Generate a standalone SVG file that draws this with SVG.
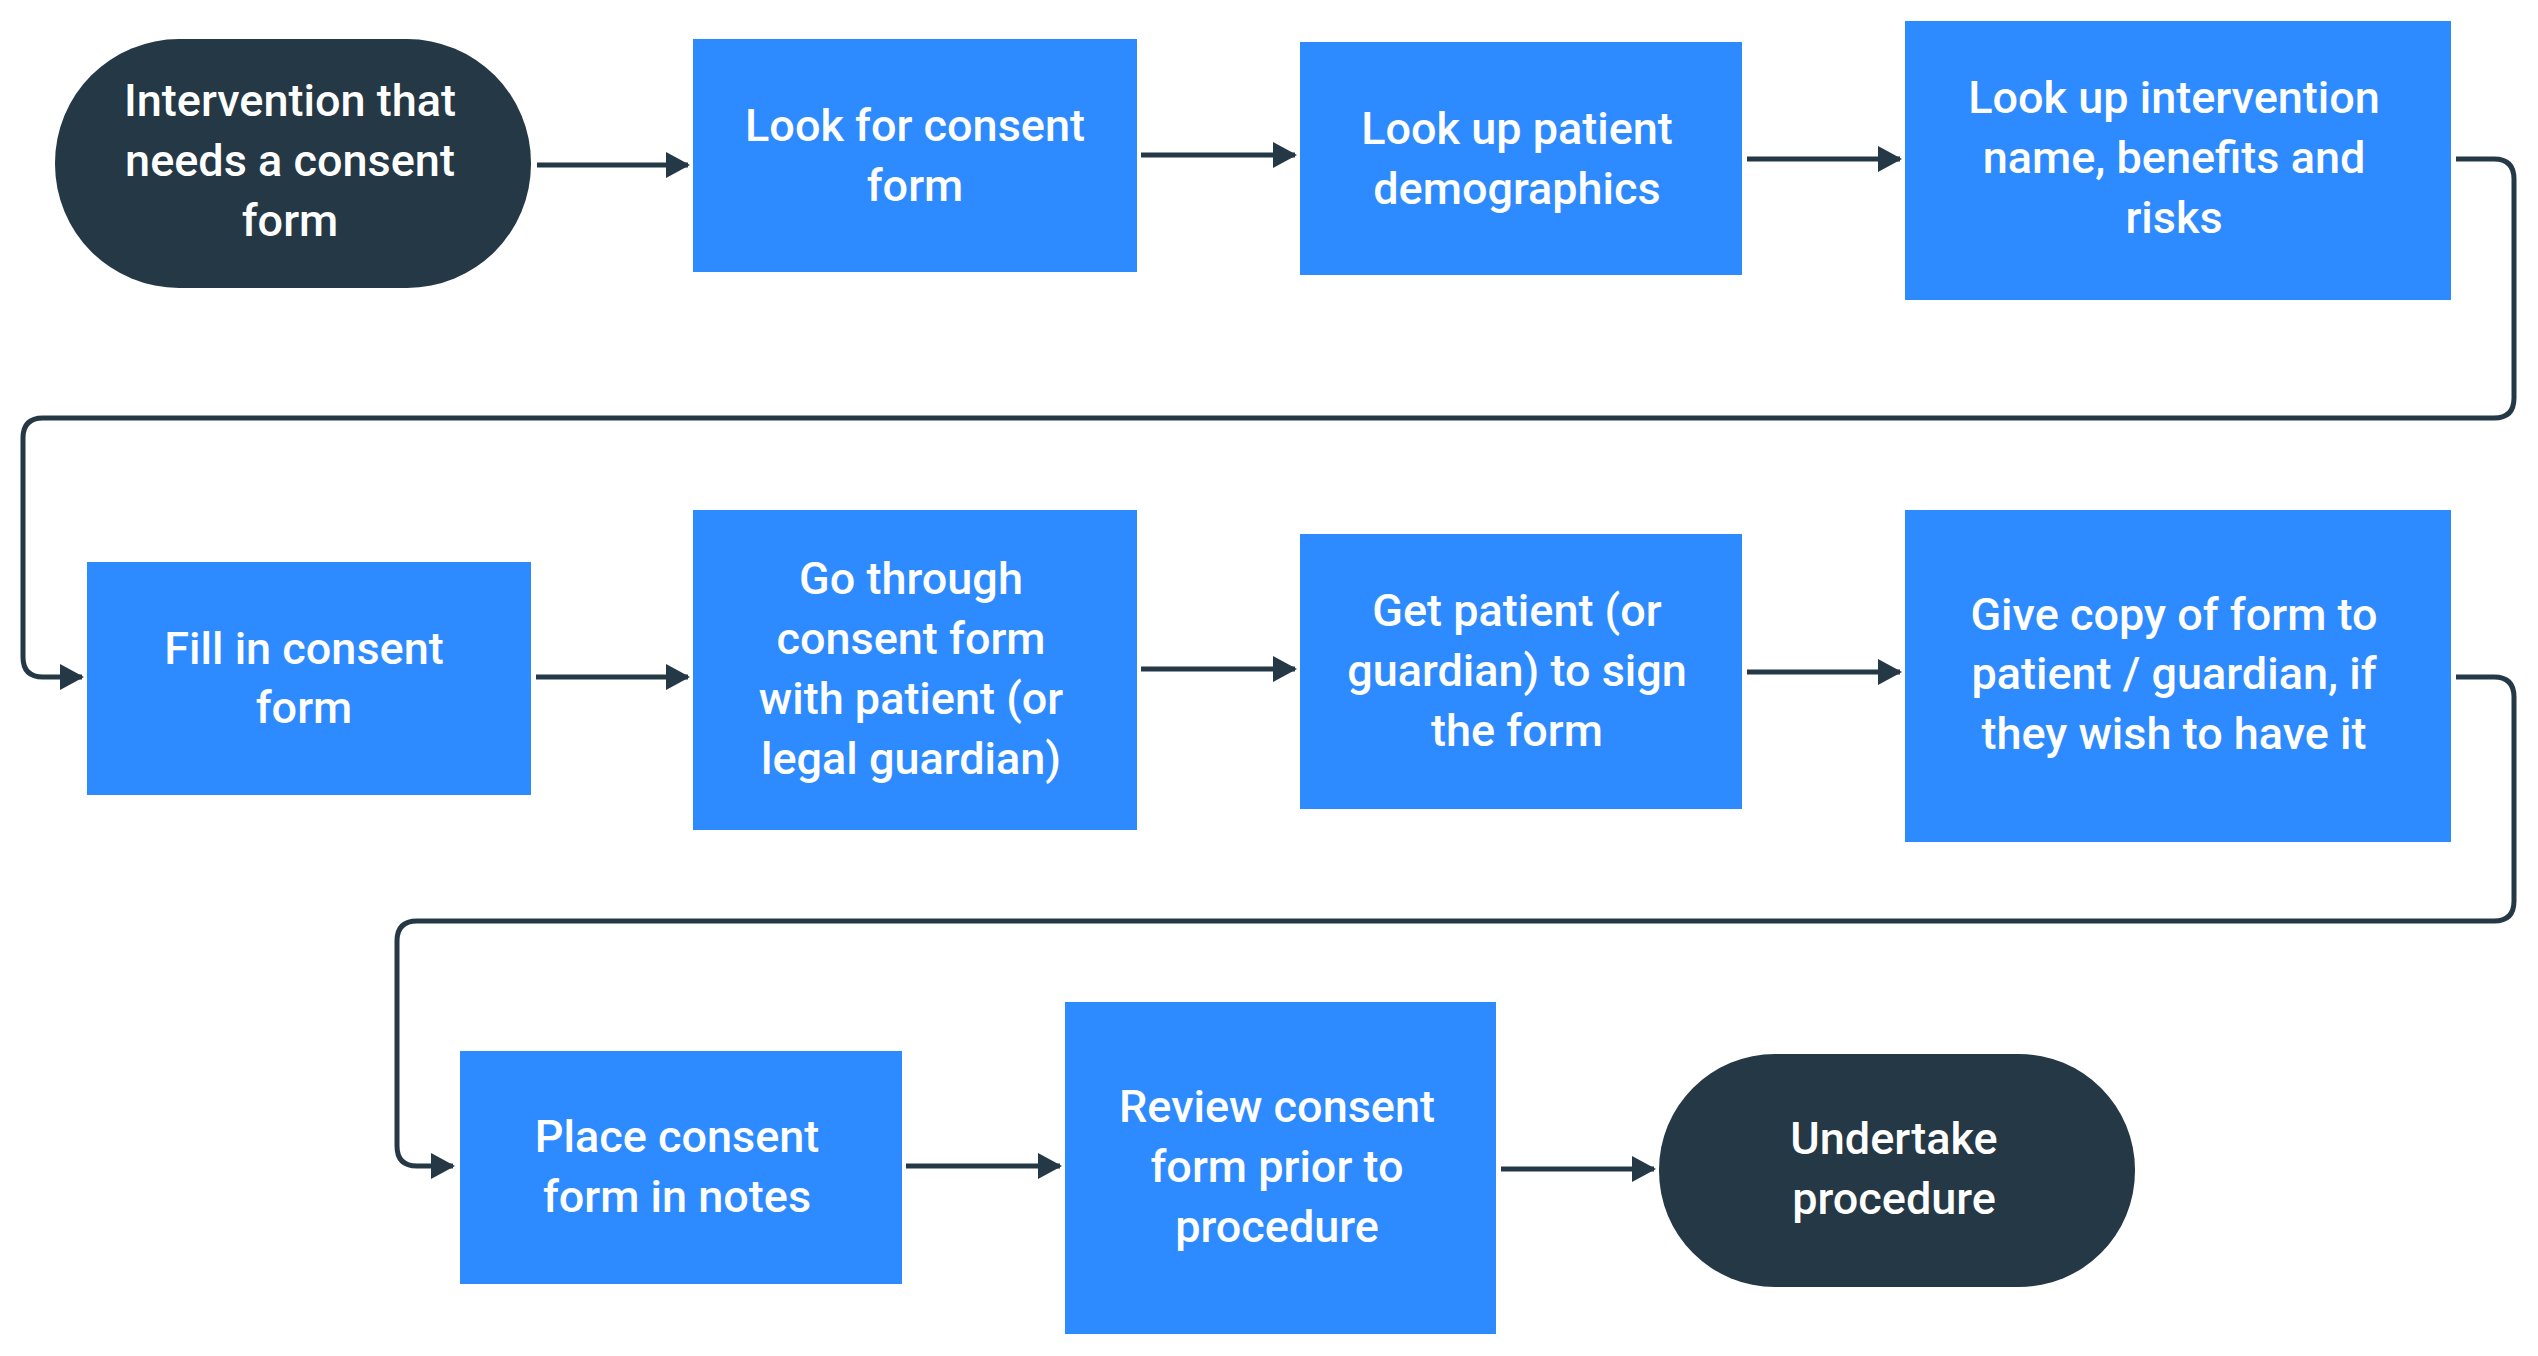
<svg xmlns="http://www.w3.org/2000/svg" width="2538" height="1356" viewBox="0 0 2538 1356">
<style>
.b{fill:#2e8bff}
.d{fill:#253846}
text{font-family:Roboto,"Liberation Sans",sans-serif;font-weight:500;font-size:45px;fill:#fff;text-anchor:middle}
.c path{fill:none;stroke:#253846;stroke-width:5;marker-end:url(#a)}
</style>
<defs><marker id="a" markerUnits="userSpaceOnUse" markerWidth="24" markerHeight="26" refX="22" refY="13" orient="auto"><path d="M0,0L24,13L0,26z" fill="#253846"/></marker></defs>
<rect width="2538" height="1356" fill="#fff"/>
<g class="c">
<path d="M537,165H688"/>
<path d="M1141,155H1295"/>
<path d="M1747,159H1900"/>
<path d="M2456,159H2494Q2514,159 2514,179V398Q2514,418 2494,418H43Q23,418 23,438V657Q23,677 43,677H82"/>
<path d="M536,677H688"/>
<path d="M1141,669H1295"/>
<path d="M1747,672H1900"/>
<path d="M2456,677H2494Q2514,677 2514,697V901Q2514,921 2494,921H417Q397,921 397,941V1146Q397,1166 417,1166H453"/>
<path d="M906,1166H1060"/>
<path d="M1501,1169H1654"/>
</g>
<g id="n1"><rect class="d" x="55" y="39" width="476" height="249" rx="124"/><text x="290" y="116">Intervention that</text><text x="290" y="176">needs a consent</text><text x="290" y="236">form</text></g>
<g id="n2"><rect class="b" x="693" y="39" width="444" height="233"/><text x="915" y="141">Look for consent</text><text x="915" y="201">form</text></g>
<g id="n3"><rect class="b" x="1300" y="42" width="442" height="233"/><text x="1517" y="144">Look up patient</text><text x="1517" y="204">demographics</text></g>
<g id="n4"><rect class="b" x="1905" y="21" width="546" height="279"/><text x="2174" y="113">Look up intervention</text><text x="2174" y="173">name, benefits and</text><text x="2174" y="233">risks</text></g>
<g id="n5"><rect class="b" x="87" y="562" width="444" height="233"/><text x="304" y="664">Fill in consent</text><text x="304" y="723">form</text></g>
<g id="n6"><rect class="b" x="693" y="510" width="444" height="320"/><text x="911" y="594">Go through</text><text x="911" y="654">consent form</text><text x="911" y="714">with patient (or</text><text x="911" y="774">legal guardian)</text></g>
<g id="n7"><rect class="b" x="1300" y="534" width="442" height="275"/><text x="1517" y="626">Get patient (or</text><text x="1517" y="686">guardian) to sign</text><text x="1517" y="746">the form</text></g>
<g id="n8"><rect class="b" x="1905" y="510" width="546" height="332"/><text x="2174" y="630">Give copy of form to</text><text x="2174" y="689">patient / guardian, if</text><text x="2174" y="749">they wish to have it</text></g>
<g id="n9"><rect class="b" x="460" y="1051" width="442" height="233"/><text x="677" y="1152">Place consent</text><text x="677" y="1212">form in notes</text></g>
<g id="n10"><rect class="b" x="1065" y="1002" width="431" height="332"/><text x="1277" y="1122">Review consent</text><text x="1277" y="1182">form prior to</text><text x="1277" y="1242">procedure</text></g>
<g id="n11"><rect class="d" x="1659" y="1054" width="476" height="233" rx="116"/><text x="1894" y="1154">Undertake</text><text x="1894" y="1214">procedure</text></g>
</svg>
